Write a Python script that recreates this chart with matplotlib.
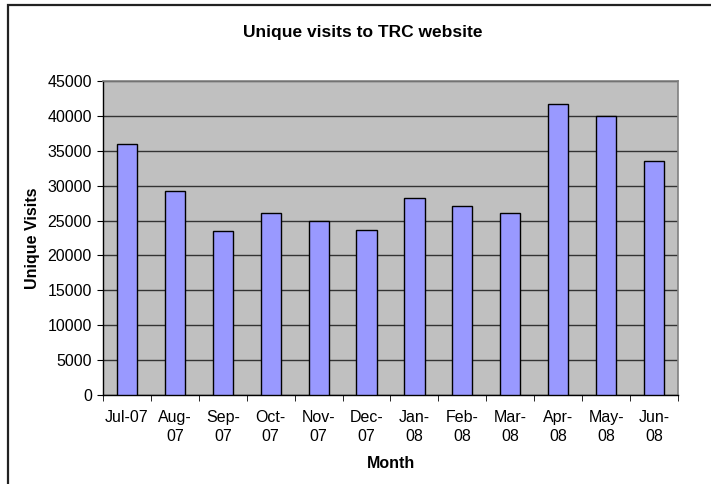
import matplotlib.pyplot as plt
from matplotlib.patches import Rectangle

# data
months = ["Jul-07", "Aug-\n07", "Sep-\n07", "Oct-\n07", "Nov-\n07", "Dec-\n07",
          "Jan-\n08", "Feb-\n08", "Mar-\n08", "Apr-\n08", "May-\n08", "Jun-\n08"]
visits = [36000, 29300, 23500, 26100, 24900, 23600,
          28200, 27100, 26100, 41700, 40000, 33500]
yticks = [0, 5000, 10000, 15000, 20000, 25000, 30000, 35000, 40000, 45000]

plt.rcParams['font.family'] = ['Liberation Sans', 'DejaVu Sans']

fig = plt.figure(figsize=(7.11, 4.84), dpi=100)
ax = fig.add_axes([103/711, 1 - 395/484, 575/711, 314/484])

# outer chart border (runs off the right and bottom edges)
fig.patches.append(Rectangle((8/711, -0.05), 1.1, 1 - 5/484 + 0.05,
                             transform=fig.transFigure, fill=False,
                             edgecolor='#222222', linewidth=1.6))

x = range(len(visits))
ax.bar(x, visits, width=0.42, color='#9999FF', edgecolor='black',
       linewidth=1, zorder=3)

ax.set_facecolor('#C0C0C0')
ax.set_xlim(-0.5, len(visits) - 0.5)
ax.set_ylim(0, 45000)
ax.set_yticks(yticks)
ax.set_yticklabels([str(v) for v in yticks], fontsize=11.5)
ax.yaxis.grid(True, color='#333333', linewidth=1, zorder=1)
ax.set_axisbelow(True)

# category labels in the middle, ticks between the categories
ax.set_xticks(list(x))
ax.set_xticklabels(months, fontsize=11.5, linespacing=1.3)
ax.set_xticks([i - 0.5 for i in range(len(visits) + 1)], minor=True)
ax.tick_params(axis='x', which='major', length=0, pad=11)
ax.tick_params(axis='x', which='minor', length=4, direction='out', color='black')
ax.tick_params(axis='y', length=4, direction='out', color='black', pad=4)

for side in ['top', 'right']:
    ax.spines[side].set_color('#808080')
    ax.spines[side].set_linewidth(1.2)
for side in ['left', 'bottom']:
    ax.spines[side].set_color('black')
    ax.spines[side].set_linewidth(1)

fig.text(362.5/711, 1 - 32/484, "Unique visits to TRC website", fontsize=12.5,
         fontweight='bold', ha='center', va='center')
ax.set_xlabel("Month", fontsize=11.5, fontweight='bold', labelpad=9)
ax.set_ylabel("Unique Visits", fontsize=11.5, fontweight='bold', labelpad=5)

plt.savefig("out.png", dpi=100)
